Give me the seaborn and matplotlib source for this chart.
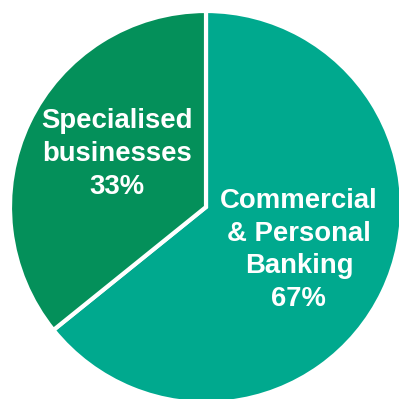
import matplotlib
matplotlib.use("Agg")
import matplotlib.pyplot as plt
import seaborn as sns

# Segment shares (wedge sizes as drawn) and the printed labels
segments = ["Commercial\n& Personal\nBanking", "Specialised\nbusinesses"]
shares = [64.2, 35.8]
pct_labels = ["67%", "33%"]
colors = ["#00A98E", "#04905A"]

sns.set_theme(style="white")
plt.rcParams["font.family"] = ["Liberation Sans", "DejaVu Sans"]

fig = plt.figure(figsize=(3.99, 3.99), dpi=100)
# centre of pie at (206, 207) px, radius 196 px
ax = fig.add_axes([(206 - 196) / 399, (399 - 207 - 196) / 399, 392 / 399, 392 / 399])

wedges, _ = ax.pie(
    shares,
    colors=colors,
    startangle=90,
    counterclock=False,
    radius=1,
    wedgeprops=dict(edgecolor="white", linewidth=3),
)
ax.set_xlim(-1, 1)
ax.set_ylim(-1, 1)
ax.set_aspect("equal")
ax.axis("off")

text_pos = [(0.474, -0.219), (-0.454, 0.27)]
for seg, pct, (x, y) in zip(segments, pct_labels, text_pos):
    ax.text(x, y, f"{seg}\n{pct}", ha="center", va="center", color="white",
            fontsize=19.8, fontweight="bold", linespacing=1.33)

fig.savefig("out.png", dpi=100)
